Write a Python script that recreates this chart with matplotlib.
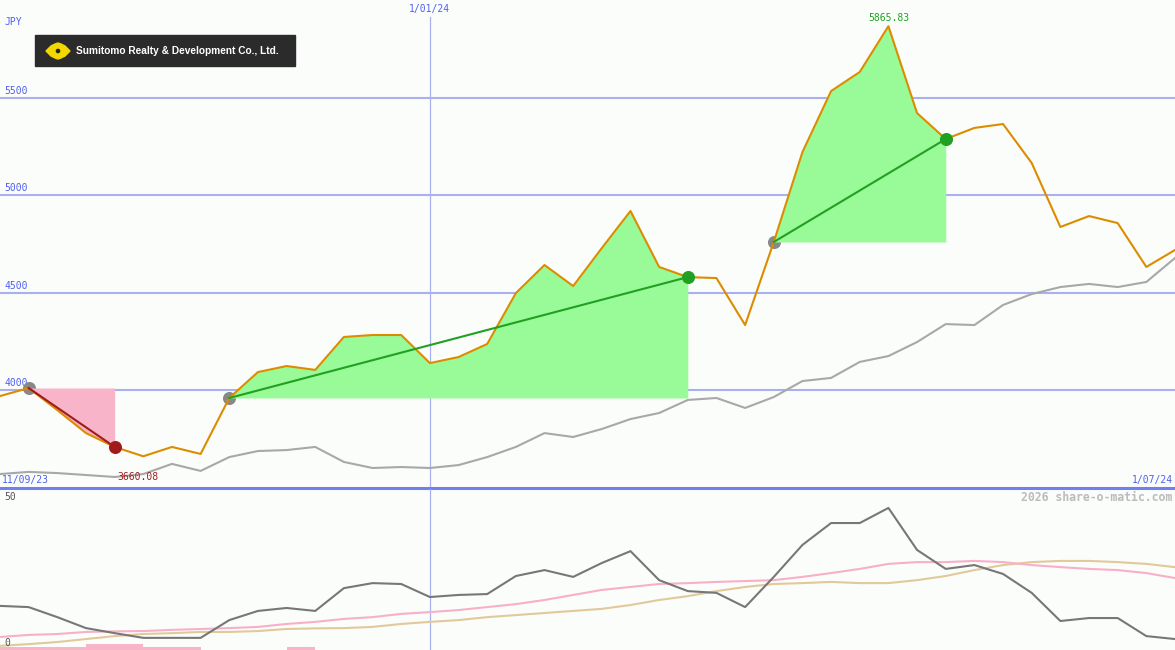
# %%
import matplotlib
matplotlib.use('Agg')
import matplotlib.pyplot as plt
from matplotlib.patches import Rectangle, Polygon, Circle
import numpy as np
import pandas as pd

# weekly closes, Sumitomo Realty & Development (JPY)
weeks = pd.date_range('2023-09-18', periods=42, freq='7D')
price = [3969, 4010, 3897, 3779, 3708, 3660.08, 3708, 3672, 3959, 4092,
         4123, 4103, 4272, 4282, 4282, 4138, 4169, 4236, 4497, 4641,
         4533, 4728, 4918, 4631, 4579, 4574, 4333, 4759, 5220, 5533,
         5631, 5865.83, 5420, 5287, 5344, 5364, 5164, 4836, 4892, 4856,
         4631, 4718]
avg_long = [3569, 3580, 3574, 3564, 3554, 3569, 3621, 3585, 3656, 3687,
            3692, 3708, 3631, 3600, 3605, 3600, 3615, 3656, 3708, 3779,
            3759, 3800, 3851, 3882, 3949, 3959, 3908, 3964, 4046, 4062,
            4144, 4174, 4246, 4338, 4333, 4436, 4492, 4528, 4544, 4528,
            4554, 4677]

# lower panel indicator
osc = [14.9, 14.5, 11.1, 7.4, 5.7, 4.1, 4.1, 4.1, 10.1, 13.2,
       14.2, 13.2, 20.9, 22.6, 22.3, 17.9, 18.6, 18.9, 25.0, 27.0,
       24.7, 29.4, 33.4, 23.6, 19.9, 19.3, 14.5, 24.7, 35.5, 42.9,
       42.9, 48.0, 33.8, 27.4, 28.7, 25.7, 19.3, 9.8, 10.8, 10.8,
       4.7, 3.7]
osc_fast = [4.4, 5.1, 5.4, 6.1, 6.3, 6.4, 6.8, 7.1, 7.4, 7.8,
            8.8, 9.5, 10.5, 11.1, 12.2, 12.8, 13.5, 14.5, 15.5, 16.9,
            18.6, 20.3, 21.3, 22.3, 22.6, 23.0, 23.3, 23.6, 24.7, 26.0,
            27.4, 29.1, 29.7, 29.7, 30.1, 29.7, 28.7, 28.0, 27.4, 27.0,
            26.0, 24.3]
osc_slow = [1.4, 2.0, 2.7, 3.7, 4.7, 5.4, 5.7, 6.1, 6.1, 6.4,
            7.1, 7.3, 7.4, 7.8, 8.8, 9.5, 10.1, 11.1, 11.8, 12.5,
            13.2, 13.9, 15.2, 16.9, 18.2, 19.9, 21.3, 22.3, 22.6, 23.0,
            22.6, 22.6, 23.6, 25.0, 27.0, 28.7, 29.7, 30.1, 30.1, 29.7,
            29.1, 28.0]
osc_bars = [1.1, 1.1, 1.1, 2.0, 2.0, 1.1, 1.1, 0, 0, 0,
            1.1, 0, 0, 0, 0, 0, 0, 0, 0, 0,
            0, 0, 0, 0, 0, 0, 0, 0, 0, 0,
            0, 0, 0, 0, 0, 0, 0, 0, 0, 0,
            0, 0]

# trend segments (start week, end week)
trends = [(1, 4), (8, 24), (27, 33)]
grid_levels = [4000, 4500, 5000, 5500]
range_labels = ['11/09/23', '1/07/24']
new_year = pd.Timestamp('2024-01-01')

BG = '#fbfdfb'
BLUE = '#5060ee'
GRID = '#a8b0f0'
MONO = 'DejaVu Sans Mono'

fig = plt.figure(figsize=(11.75, 6.5), dpi=100, facecolor=BG)
ax = fig.add_axes([0, 1 - 487.5 / 650, 1, 487.5 / 650])
axb = fig.add_axes([0, 0, 1, 161 / 650])
for a in (ax, axb):
    a.set_axis_off()
    a.set_xlim(weeks[0], weeks[-1])

ax.set_ylim(3500, 6000)
axb.set_ylim(0, 54.4)

# grid
for lv in grid_levels:
    ax.axhline(lv, color=GRID, lw=1.5, zorder=1)
    ax.text(0.004, lv + 10, str(lv), transform=ax.get_yaxis_transform(),
            color=BLUE, fontsize=7, family=MONO, va='bottom', zorder=1)
ax.axvline(new_year, ymax=0.965, color=GRID, lw=0.9, zorder=1)
axb.axvline(new_year, color=GRID, lw=0.9, zorder=1)
ax.text(new_year, 0.992, f'{new_year.day}/{new_year:%m/%y}',
        transform=ax.get_xaxis_transform(), color=BLUE, fontsize=7,
        family=MONO, ha='center', va='top')
ax.axhline(3500, color='#7080ee', lw=2.2, clip_on=False, zorder=5)
ax.text(0.004, 0.965, 'JPY', transform=ax.transAxes, color=BLUE,
        fontsize=7, family=MONO, va='top')
ax.text(0.002, 0.006, range_labels[0], transform=ax.transAxes, color=BLUE,
        fontsize=7, family=MONO, va='bottom', ha='left')
ax.text(0.998, 0.006, range_labels[1], transform=ax.transAxes, color=BLUE,
        fontsize=7, family=MONO, va='bottom', ha='right')

# price and long average
ax.plot(weeks, avg_long, color='#a8a8a8', lw=1.5, zorder=3)
ax.plot(weeks, price, color='#dd8c00', lw=1.5, zorder=6)

# trend segments
for s, e in trends:
    xs = weeks[s:e + 1]
    ys = np.array(price[s:e + 1])
    up = price[e] > price[s]
    fill = '#98fb98' if up else '#f8b4c8'
    col = '#22a022' if up else '#a01c1c'
    ax.fill_between(xs, ys, price[s], color=fill, lw=0, zorder=4)
    ax.plot(weeks[s], price[s], 'o', color='#888888', ms=9.4, mew=0, zorder=3.5)
    ax.plot([weeks[s], weeks[e]], [price[s], price[e]], color=col, lw=1.5, zorder=7)
    ax.plot(weeks[e], price[e], 'o', color=col, ms=9.4, mew=0, zorder=8)

# extremes
imax = int(np.argmax(price))
imin = int(np.argmin(price))
ax.annotate(f'{price[imax]:.2f}', (weeks[imax], price[imax]), xytext=(0, 2),
            textcoords='offset points', ha='center', va='bottom',
            color='#22a022', fontsize=7, family=MONO, zorder=9)
ax.annotate(f'{price[imin]:.2f}', (weeks[imin], price[imin]), xytext=(-4, -11),
            textcoords='offset points', ha='center', va='top',
            color='#a01c1c', fontsize=7, family=MONO, zorder=9)

# lower panel
axb.bar(weeks, osc_bars, width=7, align='edge', color='#f8b4c8', lw=0, zorder=2)
axb.plot(weeks, osc_slow, color='#e2c99c', lw=1.5, zorder=3)
axb.plot(weeks, osc_fast, color='#f8b0c8', lw=1.5, zorder=3)
axb.plot(weeks, osc, color='#777777', lw=1.5, zorder=4)
axb.text(0.004, 50, '50', transform=axb.get_yaxis_transform(), color='#555555',
         fontsize=7, family=MONO, va='bottom')
axb.text(0.004, 0.8, '0', transform=axb.get_yaxis_transform(), color='#555555',
         fontsize=7, family=MONO, va='bottom')
axb.text(0.998, 0.985, '2026 share-o-matic.com', transform=axb.transAxes,
         color='#bbbbbb', fontsize=8.3, family=MONO, weight='bold',
         ha='right', va='top')

# company logo
lg = fig.add_axes([0, 0, 1, 1])
lg.set_axis_off()
lg.set_xlim(0, 1175)
lg.set_ylim(650, 0)
lg.add_patch(Rectangle((35, 35), 260, 31, color='#2b2b2b'))
lg.add_patch(Polygon([(46, 51), (51, 46), (55, 44), (58, 43), (61, 44), (65, 46),
                      (70, 51), (65, 56), (61, 58), (58, 59), (55, 58), (51, 56)],
                     closed=True, color='#f2d800'))
lg.add_patch(Circle((58, 51), 1.6, color='#222222'))
lg.text(76, 51, 'Sumitomo Realty & Development Co., Ltd.', color='white',
        fontsize=7.3, weight='bold', family='Liberation Sans',
        va='center', ha='left')

fig.savefig('out.png', dpi=100, facecolor=BG)
